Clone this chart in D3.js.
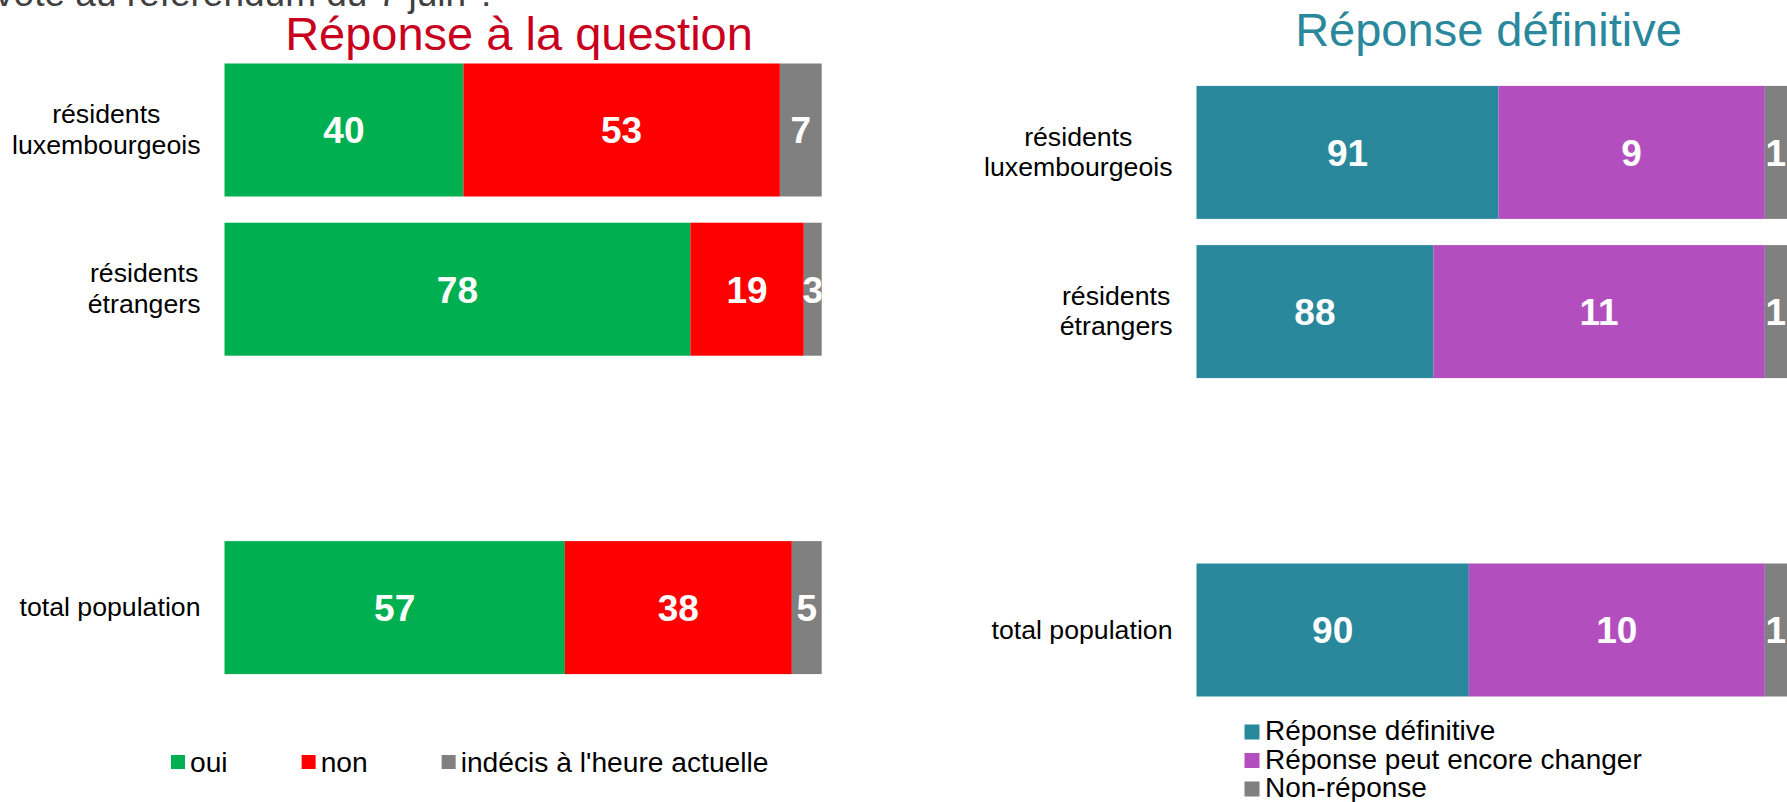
<!DOCTYPE html>
<html lang="fr">
<head>
    <meta charset="UTF-8">
    <title>Réponse à la question / Réponse définitive</title>
    <script src="https://d3js.org/d3.v7.min.js"></script>
    <style>
        body { margin: 0; background: #fff; }
        svg { display: block; font-family: "Liberation Sans", Arial, sans-serif; }
    </style>
</head>
<body>
<script>
// --- données ---
const categories = ["résidents\nluxembourgeois", "résidents\nétrangers", "total population"];

// graphique de gauche : réponse à la question (%)
const seriesGauche = ["oui", "non", "indécis à l'heure actuelle"];
const oui = [40, 78, 57];
const non = [53, 19, 38];
const indecis = [7, 3, 5];

// graphique de droite : réponse définitive (%) - longueurs estimées, étiquettes arrondies
const seriesDroite = ["Réponse définitive", "Réponse peut encore changer", "Non-réponse"];
const definitive = [90.6, 88.4, 89.6];
const peutChanger = [9.0, 11.2, 10.0];
const nonReponse = [0.8, 0.8, 0.8];

const couleursGauche = ["#00b050", "#ff0000", "#808080"];
const couleursDroite = ["#2a889d", "#b34ebf", "#808080"];

const W = 1787, H = 802;
const svg = d3.select("body").append("svg").attr("width", W).attr("height", H);

// le créneau vide entre "étrangers" et "total population"
const slots = [categories[0], categories[1], "", categories[2]];

function dessinerGraphique(cfg) {
    const g = svg.append("g");
    const y = d3.scaleBand()
        .domain(slots)
        .range(cfg.yRange)
        .paddingInner(0.1646)
        .paddingOuter(0.0823);
    // l'axe de droite ne commence pas à 0 : on borne les barres au domaine
    const x = d3.scaleLinear().domain(cfg.xDomain).range(cfg.xRange).clamp(true);

    // table empilée construite à partir des tableaux
    const table = categories.map((c, i) => {
        const obj = { cat: c };
        cfg.keys.forEach((k, j) => obj[k] = cfg.values[j][i]);
        return obj;
    });
    const couches = d3.stack().keys(cfg.keys)(table);

    const clipId = "clip" + cfg.id;
    svg.append("clipPath").attr("id", clipId)
        .append("rect")
        .attr("x", cfg.xRange[0]).attr("y", 0)
        .attr("width", Math.min(cfg.xRange[1], W) - cfg.xRange[0]).attr("height", H);

    const groupes = g.selectAll("g.serie")
        .data(couches)
        .join("g")
        .attr("class", "serie")
        .attr("fill", (d, i) => cfg.colors[i]);

    groupes.selectAll("rect")
        .data(d => d)
        .join("rect")
        .attr("x", d => x(d[0]))
        .attr("y", d => y(d.data.cat))
        .attr("width", d => x(d[1]) - x(d[0]))
        .attr("height", y.bandwidth());

    // étiquettes de valeurs
    const etiquettes = g.append("g").attr("clip-path", `url(#${clipId})`);
    couches.forEach(layer => {
        etiquettes.selectAll(null)
            .data(layer)
            .join("text")
            .attr("x", d => (x(d[0]) + Math.min(x(d[1]), W)) / 2)
            .attr("y", d => y(d.data.cat) + y.bandwidth() / 2)
            .attr("dy", "0.36em")
            .attr("text-anchor", "middle")
            .attr("fill", "#fff")
            .attr("font-weight", "bold")
            .attr("font-size", 37)
            .text(d => Math.round(d[1] - d[0]));
    });

    // libellés de catégories : bloc aligné à droite, lignes centrées
    const bordDroit = cfg.xRange[0] - 24;
    categories.forEach(c => {
        const lignes = c.split("\n");
        const t = g.append("text")
            .attr("font-size", 26.7)
            .attr("fill", "#000")
            .attr("text-anchor", "middle");
        const lh = 30.5;
        const cy = y(c) + y.bandwidth() / 2;
        const tspans = lignes.map((l, i) => t.append("tspan")
            .attr("y", cy - (lignes.length - 1) / 2 * lh + i * lh)
            .attr("dy", "0.32em")
            .text(l));
        const largeur = d3.max(tspans, s => s.node().getComputedTextLength());
        tspans.forEach(s => s.attr("x", bordDroit - largeur / 2));
    });

    // titre
    g.append("text")
        .attr("x", cfg.titleX)
        .attr("y", cfg.titleY)
        .attr("text-anchor", "middle")
        .attr("font-size", 47)
        .attr("fill", cfg.titleColor)
        .text(cfg.title);
}

dessinerGraphique({
    id: "G",
    keys: seriesGauche,
    values: [oui, non, indecis],
    colors: couleursGauche,
    xDomain: [0, 100],
    xRange: [224.5, 821.7],
    yRange: [50.4, 687.2],
    title: "Réponse à la question",
    titleColor: "#c8001e",
    titleX: 519,
    titleY: 50
});

dessinerGraphique({
    id: "D",
    keys: seriesDroite,
    values: [definitive, peutChanger, nonReponse],
    colors: couleursDroite,
    xDomain: [80.4, 100.4],
    xRange: [1196.5, 1788.5],
    yRange: [72.8, 709.6],
    title: "Réponse définitive",
    titleColor: "#2a889d",
    titleX: 1488.5,
    titleY: 46
});

// question coupée en haut à gauche
svg.append("text")
    .attr("x", 497)
    .attr("y", 6)
    .attr("text-anchor", "end")
    .attr("font-size", 37)
    .attr("fill", "#404040")
    .text("vote au référendum du 7 juin ?");

// légende de gauche (horizontale)
let lx = 171;
seriesGauche.forEach((s, i) => {
    svg.append("rect")
        .attr("x", lx).attr("y", 755)
        .attr("width", 14).attr("height", 14)
        .attr("fill", couleursGauche[i]);
    const t = svg.append("text")
        .attr("x", lx + 19).attr("y", 772)
        .attr("font-size", 28.2)
        .attr("fill", "#000")
        .text(s);
    lx += 19 + t.node().getComputedTextLength() + 74;
});

// légende de droite (verticale)
seriesDroite.forEach((s, i) => {
    const cy = 732 + i * 28.5;
    svg.append("rect")
        .attr("x", 1244.5).attr("y", cy - 7.5)
        .attr("width", 15).attr("height", 15)
        .attr("fill", couleursDroite[i]);
    svg.append("text")
        .attr("x", 1265).attr("y", cy + 8)
        .attr("font-size", 28)
        .attr("fill", "#000")
        .text(s);
});
</script>
</body>
</html>
